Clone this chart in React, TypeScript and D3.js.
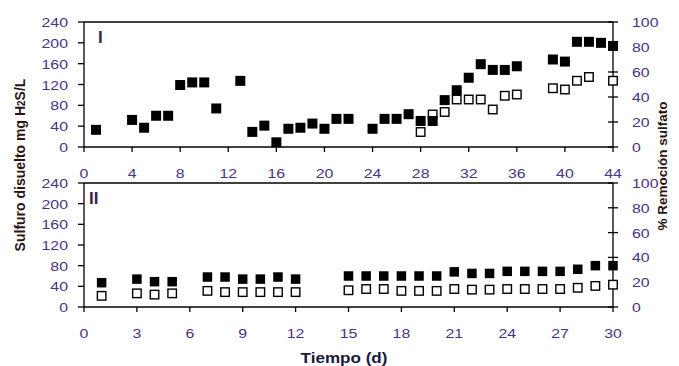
import React from 'react'
import * as d3 from 'd3'

// Panel I (0–44 d)
const daysSulfI = [1, 4, 5, 6, 7, 8, 9, 10, 11, 13, 14, 15, 16, 17, 18, 19, 20, 21, 22, 24, 25, 26, 27, 28, 29, 30, 31, 32, 33, 34, 35, 36, 39, 40, 41, 42, 43, 44]
const sulfI = [33, 52, 37, 60, 60, 119, 124, 124, 74, 127, 29, 41, 9, 35, 37, 45, 35, 54, 54, 35, 54, 54, 63, 50, 50, 90, 109, 133, 159, 148, 148, 155, 168, 164, 202, 202, 200, 194]
const daysRemI = [28, 29, 30, 31, 32, 33, 34, 35, 36, 39, 40, 41, 42, 44]
const remI = [12, 26, 28, 38, 38, 38, 30, 41, 42, 47, 46, 53, 56, 53]

// Panel II (0–30 d)
const daysII = [1, 3, 4, 5, 7, 8, 9, 10, 11, 12, 15, 16, 17, 18, 19, 20, 21, 22, 23, 24, 25, 26, 27, 28, 29, 30]
const sulfII = [47, 54, 49, 49, 58, 58, 54, 54, 58, 54, 60, 60, 60, 60, 60, 60, 68, 65, 65, 69, 69, 69, 69, 73, 80, 80]
const remII = [9, 11, 10, 11, 13, 12, 12, 12, 12, 12, 13.5, 14.5, 14.5, 13, 13, 13, 14.5, 14, 14, 14.5, 14.5, 14.5, 14.5, 15.5, 17, 18]

const leftTicks = [0, 40, 80, 120, 160, 200, 240]
const rightTicks = [0, 20, 40, 60, 80, 100]
const xTicksI = d3.range(0, 45, 4)
const xTicksII = d3.range(0, 31, 3)

const W = 679
const H = 366
const xL = 84
const xR = 613
const TICK_COLOR = '#4a3383'
const FONT = 'Liberation Sans, Arial, sans-serif'

type PanelProps = {
  top: number
  bottom: number
  xMax: number
  xTicks: number[]
  label: string
  labelX: number
  sDays: number[]
  sVals: number[]
  rDays: number[]
  rVals: number[]
  fill: number
  open: number
}

function Label({ x, y, text, anchor }: { x: number; y: number; text: string; anchor: string }) {
  return (
    <text
      transform={`translate(${x},${y}) scale(1.22,1)`}
      textAnchor={anchor}
      fontSize={13}
      fontFamily={FONT}
      fill={TICK_COLOR}
    >
      {text}
    </text>
  )
}

function Panel(p: PanelProps) {
  const x = d3.scaleLinear().domain([0, p.xMax]).range([xL, xR])
  const yl = d3.scaleLinear().domain([0, 240]).range([p.bottom, p.top])
  const yr = d3.scaleLinear().domain([0, 100]).range([p.bottom, p.top])
  return (
    <g>
      {/* frame */}
      <g stroke="#000" strokeWidth={1.3} fill="none">
        <line x1={xL} x2={xR} y1={p.top} y2={p.top} />
        <line x1={xL} x2={xR} y1={p.bottom} y2={p.bottom} />
        <line x1={xL} x2={xL} y1={p.top} y2={p.bottom} />
        <line x1={xR} x2={xR} y1={p.top} y2={p.bottom} />
        {leftTicks.map(t => (
          <line key={'l' + t} x1={xL - 6} x2={xL} y1={yl(t)} y2={yl(t)} />
        ))}
        {rightTicks.map(t => (
          <line key={'r' + t} x1={xR - 5} x2={xR + 5} y1={yr(t)} y2={yr(t)} />
        ))}
        {p.xTicks.map(t => (
          <line key={'x' + t} x1={x(t)} x2={x(t)} y1={p.bottom} y2={p.bottom + 5} />
        ))}
      </g>
      {leftTicks.map(t => (
        <Label key={'ll' + t} x={xL - 16} y={yl(t) + 5} text={String(t)} anchor="end" />
      ))}
      {rightTicks.map(t => (
        <Label key={'rl' + t} x={xR + 19} y={yr(t) + 5} text={String(t)} anchor="start" />
      ))}
      {p.xTicks.map(t => (
        <Label key={'xl' + t} x={x(t)} y={p.bottom + 31} text={String(t)} anchor="middle" />
      ))}
      <text
        x={p.labelX}
        y={p.top + 21}
        fontSize={17}
        fontWeight="bold"
        fontFamily={FONT}
        fill="#3a2448"
      >
        {p.label}
      </text>
      {/* open squares: % remoción (right axis) */}
      {p.rDays.map((d, i) => (
        <rect
          key={'o' + i}
          x={x(d) - p.open / 2}
          y={yr(p.rVals[i]) - p.open / 2}
          width={p.open}
          height={p.open}
          fill="#fff"
          stroke="#000"
          strokeWidth={1.4}
        />
      ))}
      {/* filled squares: sulfuro (left axis) */}
      {p.sDays.map((d, i) => (
        <rect
          key={'f' + i}
          x={x(d) - p.fill / 2}
          y={yl(p.sVals[i]) - p.fill / 2}
          width={p.fill}
          height={p.fill}
          fill="#000"
        />
      ))}
    </g>
  )
}

export default function App() {
  return (
    <svg
      width={W}
      height={H}
      style={{ position: 'absolute', left: 0, top: 0, background: '#fff' }}
    >
      <rect width={W} height={H} fill="#fff" />
      <Panel
        top={22}
        bottom={147}
        xMax={44}
        xTicks={xTicksI}
        label="I"
        labelX={98}
        sDays={daysSulfI}
        sVals={sulfI}
        rDays={daysRemI}
        rVals={remI}
        fill={10}
        open={8.5}
      />
      <Panel
        top={183}
        bottom={307}
        xMax={30}
        xTicks={xTicksII}
        label="II"
        labelX={89}
        sDays={daysII}
        sVals={sulfII}
        rDays={daysII}
        rVals={remII}
        fill={9.5}
        open={8.5}
      />
      <text
        transform="translate(25,165) rotate(-90)"
        textAnchor="middle"
        fontSize={14}
        fontWeight="bold"
        fontFamily={FONT}
        fill="#2a1414"
      >
        Sulfuro disuelto mg H<tspan fontSize={10}>2</tspan>S/L
      </text>
      <text
        transform="translate(667,166) rotate(-90)"
        textAnchor="middle"
        fontSize={13.5}
        fontWeight="bold"
        fontFamily={FONT}
        fill="#2a1414"
      >
        % Remoción sulfato
      </text>
      <text
        transform="translate(344,363) scale(1.22,1)"
        textAnchor="middle"
        fontSize={14}
        fontWeight="bold"
        fontFamily={FONT}
        fill="#1a1a3a"
      >
        Tiempo (d)
      </text>
    </svg>
  )
}
